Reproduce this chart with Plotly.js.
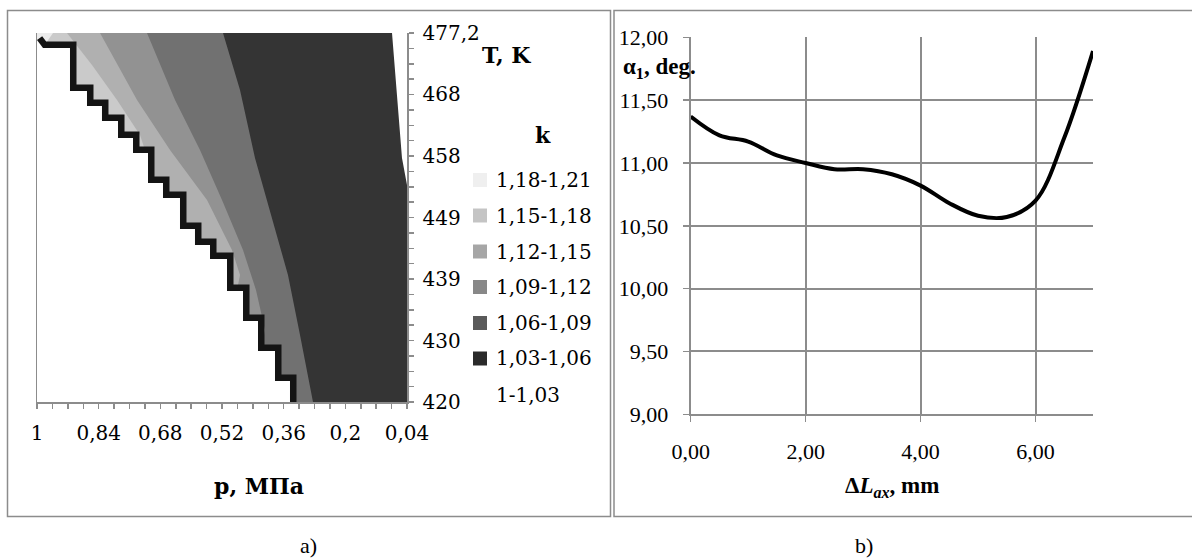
<!DOCTYPE html>
<html>
<head>
<meta charset="utf-8">
<script src="https://cdn.plot.ly/plotly-3.0.1.min.js"></script>
<style>html,body{margin:0;padding:0;background:#fff;}#chart{width:1192px;height:560px;}</style>
</head>
<body>
<div id="chart"></div>
<script>
// ---------- data: panel a) contour map k(p, T) ----------
const pTickVals = [1, 0.84, 0.68, 0.52, 0.36, 0.2, 0.04];
const pTickText = ['1', '0,84', '0,68', '0,52', '0,36', '0,2', '0,04'];
const tTickVals = [420, 429.53, 439.07, 448.6, 458.13, 467.67, 477.2];
const tTickText = ['420', '430', '439', '449', '458', '468', '477,2'];

const kLabels = ['1,18-1,21', '1,15-1,18', '1,12-1,15', '1,09-1,12', '1,06-1,09', '1,03-1,06', '1-1,03'];
const kLegendColors = ['#efefef', '#c4c4c4', '#a6a6a6', '#888888', '#5a5a5a', '#2a2a2a', null];
const kFillColors = ['#ececec', '#cacaca', '#b0b0b0', '#929292', '#717171', '#343434', '#ffffff'];

// band boundaries (contour lines): p [MPa], T [K]
const c118P = [0.9585, 0.9766, 0.9922];
const c118T = [477.2, 475.65, 474.56];
const c115P = [0.9222, 0.8573, 0.7924, 0.7328, 0.7198, 0.7846];
const c115T = [477.2, 472.24, 466.81, 461.39, 459.06, 457.51];
const c112P = [0.8365, 0.7405, 0.6549, 0.5589, 0.4941, 0.4733, 0.4863];
const c112T = [477.2, 466.81, 459.06, 451.31, 443.56, 439.69, 435.81];
const c109P = [0.7146, 0.6419, 0.5771, 0.5200, 0.4655, 0.4318, 0.4084, 0.4162, 0.4474];
const c109T = [477.2, 466.81, 459.06, 451.31, 443.56, 437.36, 431.16, 428.84, 426.51];
const c106P = [0.5174, 0.4733, 0.4344, 0.3955, 0.3488, 0.3176, 0.2839];
const c106T = [477.2, 468.36, 457.82, 449.76, 439.69, 430.39, 420];
const c103P = [0.0789, 0.0530, 0.04];
const c103T = [477.2, 457.82, 453.64];

// staircase edge of the undefined region
const stairP = [1, 0.9844, 0.9144, 0.9144, 0.8703, 0.8703, 0.8314, 0.8314, 0.7898, 0.7898, 0.7509, 0.7509,
  0.7120, 0.7120, 0.6731, 0.6731, 0.6290, 0.6290, 0.5901, 0.5901, 0.5511, 0.5511, 0.5070, 0.5070,
  0.4655, 0.4655, 0.4266, 0.4266, 0.3825, 0.3825, 0.3436, 0.3436];
const stairT = [476.11, 474.87, 474.87, 468.21, 468.21, 465.88, 465.88, 463.56, 463.56, 460.92, 460.92, 458.60,
  458.60, 453.95, 453.95, 451.62, 451.62, 446.82, 446.82, 444.34, 444.34, 442.17, 442.17, 437.21,
  437.21, 432.56, 432.56, 427.91, 427.91, 423.26, 423.26, 420];

const pMax = 1, pMin = 0.04, tMin = 420, tMax = 477.2;

// ---------- data: panel b) alpha1 vs dLax ----------
const dLax = [0, 0.5, 1.0, 1.5, 2.0, 2.5, 3.0, 3.5, 4.0, 4.5, 5.0, 5.5, 6.0, 6.5, 7.0];
const alpha1 = [11.37, 11.22, 11.17, 11.06, 11.00, 10.95, 10.95, 10.91, 10.82, 10.68, 10.58, 10.57, 10.70, 11.20, 11.89];

// ---------- layout helpers ----------
const W = 1192, H = 560;
const px = x => x / W;
const py = y => 1 - y / H;
const FONT = '"Liberation Serif", "Times New Roman", serif';
const FONT_A = '"DejaVu Serif", serif';   // wider serif: the left panel is horizontally stretched
const GRAY = '#8c8c8c';

function poly(P, T, extraP, extraT, color) {
  return {
    type: 'scatter', mode: 'lines', xaxis: 'x', yaxis: 'y',
    x: P.concat(extraP), y: T.concat(extraT),
    fill: 'toself', fillcolor: color, line: {width: 0, color: color},
    hoverinfo: 'skip', showlegend: false
  };
}

const traces = [
  poly(c103P, c103T, [pMin, pMax, pMax], [tMin, tMin, tMax], kFillColors[5]),
  poly(c106P, c106T, [pMax, pMax], [tMin, tMax], kFillColors[4]),
  poly(c109P, c109T, [pMax, pMax], [c109T[c109T.length - 1], tMax], kFillColors[3]),
  poly(c112P, c112T, [pMax, pMax], [c112T[c112T.length - 1], tMax], kFillColors[2]),
  poly(c115P, c115T, [pMax, pMax], [c115T[c115T.length - 1], tMax], kFillColors[1]),
  poly(c118P, c118T, [pMax, pMax], [c118T[c118T.length - 1], tMax], kFillColors[0]),
  {
    type: 'scatter', mode: 'lines', xaxis: 'x', yaxis: 'y',
    x: stairP, y: stairT, line: {color: '#141414', width: 13},
    hoverinfo: 'skip', showlegend: false
  },
  poly(stairP, stairT, [pMax], [tMin], '#ffffff'),
  {
    type: 'scatter', mode: 'lines', xaxis: 'x2', yaxis: 'y2',
    x: dLax, y: alpha1,
    line: {color: '#000000', width: 4, shape: 'spline', smoothing: 1},
    hoverinfo: 'skip', showlegend: false
  }
];

const shapes = [
  {type: 'rect', xref: 'paper', yref: 'paper', x0: px(7.5), x1: px(610.5), y0: py(516.5), y1: py(10.5),
    line: {color: GRAY, width: 1.5}},
  {type: 'rect', xref: 'paper', yref: 'paper', x0: px(614), x1: px(1195), y0: py(516.5), y1: py(10.5),
    line: {color: GRAY, width: 1.5}}
];

const annotations = [
  {text: '<b>T, K</b>', x: px(480), y: py(55), xanchor: 'left', yanchor: 'middle', fam: FONT_A, size: 22},
  {text: '<b>k</b>', x: px(543), y: py(135), xanchor: 'center', yanchor: 'middle', fam: FONT_A, size: 22},
  {text: '<b>p, МПа</b>', x: px(259), y: py(486), xanchor: 'center', yanchor: 'middle', fam: FONT_A, size: 22},
  {text: 'a)', x: px(308), y: py(545), xanchor: 'center', yanchor: 'middle', fam: FONT, size: 22},
  {text: 'b)', x: px(864), y: py(545), xanchor: 'center', yanchor: 'middle', fam: FONT, size: 22},
  {text: '<b>α<sub>1</sub>, deg.</b>', x: px(621), y: py(68), xanchor: 'left', yanchor: 'middle', fam: FONT, size: 23},
  {text: '<b>Δ<i>L</i><sub><i>ax</i></sub>, mm</b>', x: px(892), y: py(487), xanchor: 'center', yanchor: 'middle', fam: FONT, size: 23}
];

const legendRowY = [180, 215.5, 251.5, 287, 323, 358.5, 395];
kLabels.forEach((lab, i) => {
  annotations.push({text: lab, x: px(494), y: py(legendRowY[i]), xanchor: 'left', yanchor: 'middle', fam: FONT_A, size: 20});
  if (kLegendColors[i]) {
    shapes.push({type: 'rect', xref: 'paper', yref: 'paper',
      x0: px(473), x1: px(487), y0: py(legendRowY[i] + 7), y1: py(legendRowY[i] - 7),
      fillcolor: kLegendColors[i], line: {width: 0}});
  }
});
annotations.forEach(a => {
  a.xref = 'paper'; a.yref = 'paper'; a.showarrow = false;
  a.font = {family: a.fam, size: a.size, color: '#000'};
  delete a.fam; delete a.size;
});

const layout = {
  width: W, height: H,
  margin: {l: 0, r: 0, t: 0, b: 0},
  paper_bgcolor: '#ffffff', plot_bgcolor: '#ffffff',
  separators: ',.',
  showlegend: false,
  font: {family: FONT, size: 22, color: '#000'},
  xaxis: {
    domain: [px(37), px(407)], anchor: 'y',
    range: [pMax, pMin], autorange: false,
    tickmode: 'array', tickvals: pTickVals, ticktext: pTickText,
    ticks: 'outside', ticklen: 5, tickcolor: GRAY, tickwidth: 1.5,
    minor: {tick0: 0.04, dtick: 0.04, ticks: 'outside', ticklen: 5, tickcolor: GRAY, tickwidth: 1.5},
    showline: true, linecolor: GRAY, linewidth: 1.5,
    showgrid: false, zeroline: false, ticklabelstandoff: 7,
    tickfont: {family: FONT_A, size: 20, color: '#000'}
  },
  yaxis: {
    domain: [py(402), py(33)], anchor: 'x', side: 'right',
    range: [tMin, tMax], autorange: false,
    tickmode: 'array', tickvals: tTickVals, ticktext: tTickText,
    ticks: 'outside', ticklen: 5, tickcolor: GRAY, tickwidth: 1.5,
    minor: {tick0: 420, dtick: 2.38333, ticks: 'outside', ticklen: 5, tickcolor: GRAY, tickwidth: 1.5},
    showline: true, mirror: true, linecolor: GRAY, linewidth: 1.5,
    showgrid: false, zeroline: false, ticklabelstandoff: 5,
    tickfont: {family: FONT_A, size: 20, color: '#000'}
  },
  xaxis2: {
    domain: [px(690.7), px(1093)], anchor: 'y2',
    range: [0, 7], autorange: false,
    tickmode: 'linear', tick0: 0, dtick: 2, tickformat: '.2f',
    ticks: 'outside', ticklen: 6, tickcolor: GRAY, tickwidth: 1.5,
    showline: true, linecolor: GRAY, linewidth: 2,
    showgrid: true, gridcolor: GRAY, gridwidth: 2, zeroline: false,
    ticklabelstandoff: 10,
    tickfont: {family: FONT, size: 22, color: '#000'}
  },
  yaxis2: {
    domain: [py(414.3), py(37.3)], anchor: 'x2',
    range: [9, 12], autorange: false,
    tickmode: 'linear', tick0: 9, dtick: 0.5, tickformat: '.2f',
    ticks: 'outside', ticklen: 6, tickcolor: GRAY, tickwidth: 1.5,
    showline: true, linecolor: GRAY, linewidth: 2,
    showgrid: true, gridcolor: GRAY, gridwidth: 2, zeroline: false,
    ticklabelstandoff: 10,
    tickfont: {family: FONT, size: 22, color: '#000'}
  },
  shapes: shapes,
  annotations: annotations
};

Plotly.newPlot('chart', traces, layout, {staticPlot: true, displayModeBar: false});
</script>
</body>
</html>
